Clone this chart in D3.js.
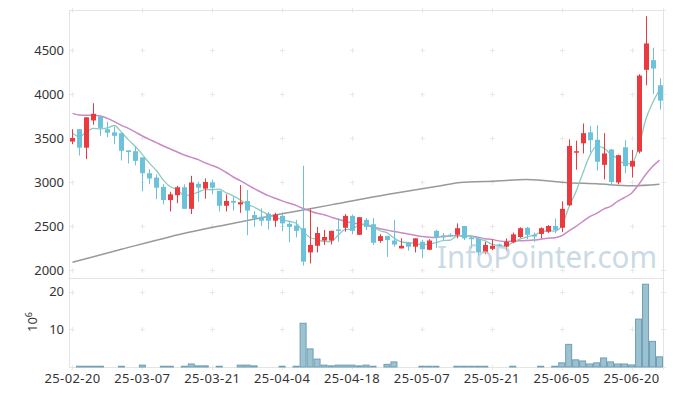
<!DOCTYPE html>
<html>
<head>
<meta charset="utf-8">
<script src="https://cdn.jsdelivr.net/npm/d3@7"></script>
<style>
  body { margin: 0; background: #fff; }
  text { font-family: "Noto Sans", sans-serif; }
</style>
</head>
<body>
<svg id="chart" width="673" height="396"></svg>
<script>
// trading days (category axis)
const dates = [
  "25-02-20","25-02-21","25-02-24","25-02-25","25-02-26","25-02-27","25-02-28",
  "25-03-04","25-03-05","25-03-06","25-03-07","25-03-10","25-03-11","25-03-12","25-03-13","25-03-14",
  "25-03-17","25-03-18","25-03-19","25-03-20","25-03-21","25-03-24","25-03-25","25-03-26","25-03-27","25-03-28","25-03-31",
  "25-04-01","25-04-02","25-04-03","25-04-04","25-04-07","25-04-08","25-04-09","25-04-10","25-04-11",
  "25-04-14","25-04-15","25-04-16","25-04-17","25-04-18","25-04-21","25-04-22","25-04-23","25-04-24","25-04-25",
  "25-04-28","25-04-29","25-04-30","25-05-02","25-05-07","25-05-08","25-05-09",
  "25-05-12","25-05-13","25-05-14","25-05-15","25-05-16","25-05-19","25-05-20","25-05-21","25-05-22","25-05-23",
  "25-05-26","25-05-27","25-05-28","25-05-29","25-05-30","25-06-02","25-06-04","25-06-05",
  "25-06-09","25-06-10","25-06-11","25-06-12","25-06-13","25-06-16","25-06-17","25-06-18","25-06-19","25-06-20",
  "25-06-23","25-06-24","25-06-25","25-06-26"
];

const open = [3460,3600,3390,3700,3745,3600,3565,3555,3360,3350,
  3280,3100,3050,2945,2795,2850,2940,2695,2980,2925,
  2995,2900,2730,2785,2745,2785,2625,2605,2640,2560,
  2615,2525,2505,2475,2200,2275,2335,2335,2460,2480,
  2615,2400,2570,2520,2330,2385,2335,2245,2310,2265,
  2320,2230,2445,2390,2400,2400,2500,2370,2355,2200,
  2240,2290,2265,2315,2375,2480,2400,2410,2435,2500,
  2480,2735,3335,3440,3565,3480,3195,3370,2995,3395,
  3175,3345,4275,4385,4100];
const high = [3600,3600,3740,3895,3750,3685,3630,3555,3360,3400,
  3280,3145,3085,2975,2890,2955,2975,3070,3005,3040,
  3025,2900,2860,2835,2965,2910,2670,2700,2660,2650,
  2655,2555,2570,3185,2690,2490,2455,2445,2590,2635,
  2630,2600,2590,2590,2405,2390,2570,2360,2320,2360,
  2345,2350,2455,2420,2420,2530,2500,2385,2370,2320,
  2350,2300,2360,2425,2485,2490,2425,2485,2510,2585,
  2780,3485,3470,3665,3635,3645,3555,3375,3310,3475,
  3365,4225,4885,4525,4180];
const low = [3430,3300,3260,3650,3525,3510,3430,3245,3210,3190,
  2895,2975,2805,2745,2665,2760,2695,2635,2775,2810,
  2860,2665,2665,2675,2650,2395,2490,2500,2460,2490,
  2440,2315,2370,2050,2075,2200,2285,2290,2320,2435,
  2405,2400,2455,2285,2310,2150,2265,2245,2220,2200,
  2135,2225,2250,2340,2375,2360,2340,2245,2160,2180,
  2225,2260,2220,2305,2365,2350,2320,2360,2420,2420,
  2430,2730,3140,3325,3335,3130,3030,2965,2975,3100,
  3050,3325,4100,4000,3825];
const close = [3500,3390,3735,3775,3615,3560,3525,3355,3340,3240,
  3100,3040,2935,2795,2860,2940,2695,2995,2935,3000,
  2935,2730,2785,2765,2770,2675,2585,2560,2560,2630,
  2530,2490,2445,2095,2285,2420,2375,2445,2445,2615,
  2445,2600,2490,2310,2385,2340,2290,2275,2265,2360,
  2235,2335,2365,2370,2385,2475,2360,2350,2200,2285,
  2275,2275,2320,2405,2475,2400,2380,2475,2500,2455,
  2695,3410,3350,3555,3475,3230,3325,3000,3305,3180,
  3240,4210,4575,4290,3925];

// volume, millions of shares
const volume = [0,0.2,0.2,0.2,0.2,0,0,0.2,0,0,
  0.5,0,0,0.2,0.2,0,0.2,0.8,0.3,0.3,
  0,0.2,0,0,0.5,0.5,0.3,0,0,0,
  0.2,0,0.2,11.6,4.8,2.1,0.5,0.3,0.5,0.5,
  0.5,0.3,0.5,0.2,0,0.7,1.35,0,0,0,
  0.2,0.2,0.2,0,0,0.2,0.2,0.2,0.2,0.2,
  0,0,0,0.2,0,0,0,0.2,0,0.2,
  1.1,6.0,1.9,1.6,0.8,1.1,2.4,1.35,0.8,0.8,
  0.55,12.7,21.95,6.8,2.7];

// moving averages
const ma5 = [3555,3515,3570,3610,3603,3615,3642,3566,3479,3404,
  3312,3215,3131,3022,2946,2914,2845,2857,2885,2913,
  2912,2919,2877,2843,2797,2745,2716,2671,2630,2602,
  2573,2554,2531,2438,2369,2347,2324,2324,2394,2460,
  2465,2510,2519,2492,2446,2425,2363,2320,2311,2306,
  2285,2294,2312,2333,2338,2386,2391,2388,2354,2334,
  2294,2277,2271,2312,2350,2375,2396,2427,2446,2442,
  2501,2707,2882,3093,3297,3404,3387,3317,3267,3208,
  3210,3387,3702,3899,4048];
const ma20 = [3780,3761,3758,3758,3750,3723,3686,3644,3610,3568,
  3523,3485,3447,3409,3375,3341,3307,3280,3254,3217,
  3188,3155,3108,3057,3015,2971,2924,2884,2845,2815,
  2786,2759,2734,2699,2670,2644,2628,2601,2576,2557,
  2533,2526,2511,2489,2469,2453,2438,2424,2409,2395,
  2381,2373,2369,2383,2388,2390,2390,2385,2373,2356,
  2348,2331,2323,2328,2332,2335,2340,2350,2361,2366,
  2389,2443,2492,2551,2606,2644,2692,2724,2780,2824,
  2873,2969,3082,3176,3249];
// long average, read at a few candles
const maLongIdx = [0, 7, 14, 22, 29, 37, 45, 52, 56, 59, 65, 71, 75, 80, 84];
const maLong    = [2087, 2235, 2379, 2515, 2625, 2740, 2858, 2950, 2998, 3005, 3028, 2992, 2980, 2958, 2975];

const priceTicks = [2000, 2500, 3000, 3500, 4000, 4500];
const volTicks = [10, 20];
const labelStep = 10;

const upColor = "#ea3a3e", downColor = "#6cc2da";

const svg = d3.select("#chart");
const left = 69, right = 663;
const pTop = 10, pBot = 278, vTop = 278, vBot = 367;

const x = d3.scaleBand().domain(dates).range([left, right]);
const cx = i => x(dates[i]) + x.bandwidth() / 2;
const y = d3.scaleLinear().domain([1909, 4955]).range([pBot, pTop]);
const yv = d3.scaleLinear().domain([0, 23.6]).range([vBot, vTop]);

const tickIdx = d3.range(0, dates.length, labelStep);

// grid crosses
const grid = svg.append("g").attr("stroke", "#e9e9e9").attr("stroke-width", 1);
function crosses(xs, ys) {
  xs.forEach(px => ys.forEach(py => {
    grid.append("line").attr("x1", px - 2.5).attr("x2", px + 2.5).attr("y1", py).attr("y2", py);
    grid.append("line").attr("x1", px).attr("x2", px).attr("y1", py - 2.5).attr("y2", py + 2.5);
  }));
}
const gx = tickIdx.map(i => Math.round(cx(i)) + 0.5).concat([right + 0.5]);
crosses(gx, priceTicks.map(v => Math.round(y(v)) + 0.5).concat([pTop + 0.5]));
crosses(gx, volTicks.map(v => Math.round(yv(v)) + 0.5).concat([vBot + 0.5]));

// frames
svg.append("rect").attr("x", left + 0.5).attr("y", pTop + 0.5)
  .attr("width", right - left).attr("height", pBot - pTop)
  .attr("fill", "none").attr("stroke", "#e4e4e4");
svg.append("rect").attr("x", left + 0.5).attr("y", vTop + 0.5)
  .attr("width", right - left).attr("height", vBot - vTop)
  .attr("fill", "none").attr("stroke", "#e4e4e4");

// axes labels
svg.append("g").selectAll("text").data(priceTicks).join("text")
  .attr("x", 64).attr("y", d => y(d)).attr("dy", "0.35em")
  .attr("text-anchor", "end").attr("font-size", 13).attr("fill", "#333")
  .text(d => d);
svg.append("g").selectAll("text").data(volTicks).join("text")
  .attr("x", 64).attr("y", d => yv(d)).attr("dy", "0.35em")
  .attr("text-anchor", "end").attr("font-size", 13).attr("fill", "#333")
  .text(d => d);
const vl = svg.append("text").attr("transform", "translate(37,322) rotate(-90)")
  .attr("text-anchor", "middle").attr("font-size", 13).attr("fill", "#333");
vl.append("tspan").text("10");
vl.append("tspan").attr("dy", -5).attr("font-size", 9).text("6");

svg.append("g").selectAll("text").data(tickIdx).join("text")
  .attr("x", i => cx(i)).attr("y", 383)
  .attr("text-anchor", "middle").attr("font-size", 13).attr("fill", "#333")
  .attr("letter-spacing", 0.4)
  .text(i => dates[i]);

// volume bars
const bw = x.bandwidth();
svg.append("g").selectAll("rect").data(d3.range(dates.length).filter(i => volume[i] > 0)).join("rect")
  .attr("x", i => cx(i) - bw / 2 + 0.5).attr("width", bw - 1)
  .attr("y", i => yv(volume[i])).attr("height", i => vBot - yv(volume[i]))
  .attr("fill", "#9cc2d2").attr("stroke", "#6e9fb5").attr("stroke-width", 1);

// moving average lines
const line = d3.line().x(d => cx(d[0])).y(d => y(d[1])).curve(d3.curveMonotoneX);
svg.append("path").datum(maLongIdx.map((i, k) => [i, maLong[k]]))
  .attr("d", line).attr("fill", "none").attr("stroke", "#999").attr("stroke-width", 1.5);
svg.append("path").datum(ma20.map((v, i) => [i, v]))
  .attr("d", line).attr("fill", "none").attr("stroke", "#c98ac6").attr("stroke-width", 1.5);
svg.append("path").datum(ma5.map((v, i) => [i, v]))
  .attr("d", line).attr("fill", "none").attr("stroke", "#8dcbbd").attr("stroke-width", 1.3);

// candles
const candles = svg.append("g").selectAll("g").data(d3.range(dates.length)).join("g")
  .attr("fill", i => close[i] >= open[i] ? upColor : downColor)
  .attr("stroke", i => close[i] >= open[i] ? upColor : downColor);
candles.append("line")
  .attr("x1", i => Math.round(cx(i)) + 0.5).attr("x2", i => Math.round(cx(i)) + 0.5)
  .attr("y1", i => y(high[i])).attr("y2", i => y(low[i]))
  .attr("stroke-width", 1);
candles.append("rect")
  .attr("x", i => Math.round(cx(i)) - 2)
  .attr("width", 5)
  .attr("y", i => y(Math.max(open[i], close[i])))
  .attr("height", i => Math.max(1.5, Math.abs(y(open[i]) - y(close[i]))))
  .attr("stroke", "none");

// watermark
svg.append("text").attr("x", 437).attr("y", 268)
  .attr("font-family", "Liberation Sans, Arial, sans-serif")
  .attr("font-size", 31.5).attr("fill", "#b4cbda").attr("opacity", 0.7)
  .attr("textLength", 220).attr("lengthAdjust", "spacingAndGlyphs")
  .text("InfoPointer.com");
</script>
</body>
</html>
